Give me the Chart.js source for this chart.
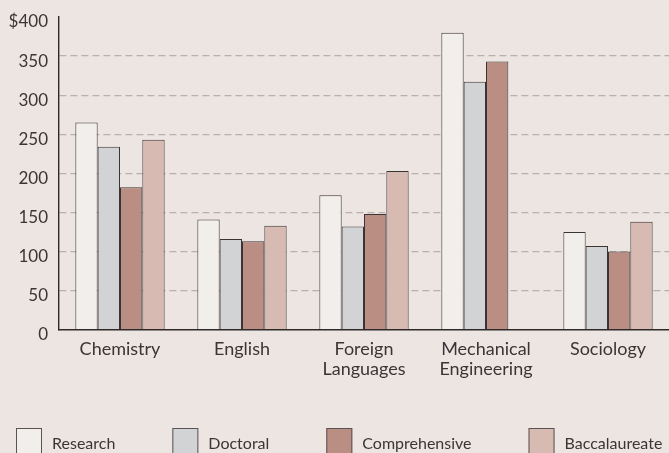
<!DOCTYPE html>
<html>
<head>
<meta charset="utf-8">
<script src="https://cdn.jsdelivr.net/npm/chart.js@4"></script>
<style>
    html, body { margin: 0; padding: 0; background: #ede5e1; overflow: hidden; }
    #wrap { width: 669px; height: 453px; }
</style>
</head>
<body>
<div id="wrap"><canvas id="chart" width="669" height="453"></canvas></div>
<script>
(function () {
    "use strict";

    var categories = ['Chemistry', 'English', ['Foreign', 'Languages'], ['Mechanical', 'Engineering'], 'Sociology'];
    var seriesNames = ['Research', 'Doctoral', 'Comprehensive', 'Baccalaureate'];
    var research = [265, 141, 172, 380, 125];
    var doctoral = [234, 116, 132, 317, 107];
    var comprehensive = [182, 113, 148, 343, 100];
    var baccalaureate = [243, 133, 203, null, 138];
    var yTicks = [0, 50, 100, 150, 200, 250, 300, 350, 400];

    var fills = ['#f2eeec', '#d2d3d5', '#ba8e82', '#d7bab1'];
    var ink = '#3a3536';

    var makeSet = function (i, values) {
        return {
            label: seriesNames[i],
            data: values,
            backgroundColor: fills[i],
            borderColor: '#3b3434',
            borderWidth: 1,
            borderSkipped: 'start'
        };
    };

    // legend drawn under the axis, like the print version (it runs off the bottom edge)
    var bottomLegend = {
        id: 'bottomLegend',
        afterDraw: function (chart, args, opts) {
            var ctx = chart.ctx;
            var x = opts.left;
            ctx.save();
            ctx.font = opts.font;
            ctx.textBaseline = 'alphabetic';
            ctx.textAlign = 'left';
            chart.data.datasets.forEach(function (ds) {
                ctx.fillStyle = ds.backgroundColor;
                ctx.fillRect(x, opts.top, opts.box, opts.box);
                ctx.strokeStyle = '#5a5253';
                ctx.lineWidth = 1;
                ctx.strokeRect(x + 0.5, opts.top + 0.5, opts.box - 1, opts.box - 1);
                ctx.fillStyle = ink;
                ctx.fillText(ds.label, x + opts.box + opts.gap, opts.baseline);
                x += opts.box + opts.gap + ctx.measureText(ds.label).width + opts.spacing;
            });
            ctx.restore();
        }
    };

    var ctx = document.getElementById('chart').getContext('2d');

    new Chart(ctx, {
        type: 'bar',
        data: {
            labels: categories,
            datasets: [
                makeSet(0, research),
                makeSet(1, doctoral),
                makeSet(2, comprehensive),
                makeSet(3, baccalaureate)
            ]
        },
        plugins: [bottomLegend],
        options: {
            responsive: false,
            animation: false,
            categoryPercentage: 0.732,
            barPercentage: 1.0,
            layout: { padding: { top: 17, right: 0, bottom: 64, left: 0 } },
            plugins: {
                legend: { display: false },
                tooltip: { enabled: false },
                bottomLegend: {
                    left: 16, top: 428, box: 26, gap: 10, spacing: 57, baseline: 449,
                    font: '16px Lato'
                }
            },
            scales: {
                x: {
                    grid: { display: false, drawTicks: false },
                    border: { display: true, color: '#2f2a2a', width: 1.6 },
                    ticks: {
                        color: ink,
                        padding: 9,
                        maxRotation: 0,
                        autoSkip: false,
                        font: { family: 'Lato', size: 18, lineHeight: 1.15 }
                    }
                },
                y: {
                    min: 0,
                    max: 400,
                    afterFit: function (scale) {
                        scale.width = 59;
                        scale.paddingTop = 0; // let layout padding decide where the top sits
                    },
                    afterBuildTicks: function (scale) {
                        scale.ticks = yTicks.map(function (v) { return { value: v }; });
                    },
                    grid: {
                        drawTicks: false,
                        lineWidth: 1.2,
                        color: function (c) {
                            var v = c.tick ? c.tick.value : 0;
                            return (v === 0 || v === 400) ? 'rgba(0,0,0,0)' : '#b8b0ad';
                        }
                    },
                    // in v4 the dash here styles the grid lines, the axis line stays solid
                    border: { display: true, color: '#2f2a2a', width: 1.4, dash: [7, 4] },
                    ticks: {
                        color: ink,
                        padding: 11,
                        labelOffset: 5,
                        font: { family: 'Lato', size: 17 },
                        callback: function (v) { return v === 400 ? '$' + v : v; }
                    }
                }
            }
        }
    });
}());
</script>
</body>
</html>
